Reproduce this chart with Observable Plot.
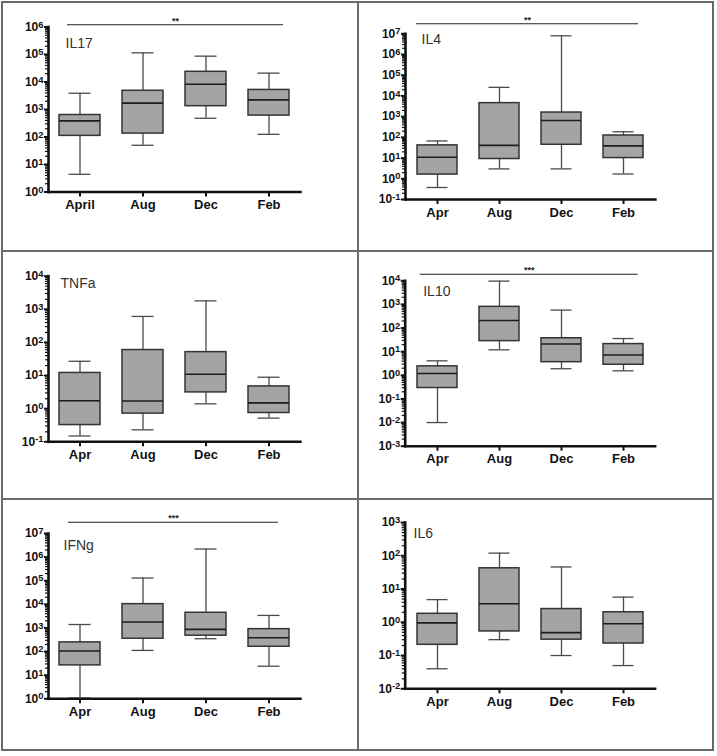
<!DOCTYPE html>
<html><head><meta charset="utf-8">
<script src="https://cdn.jsdelivr.net/npm/d3@7"></script>
<script src="https://cdn.jsdelivr.net/npm/@observablehq/plot@0.6"></script>
<style>
body{margin:0;background:#fff;}
#wrap{position:relative;width:717px;height:756px;overflow:hidden;background:#fff;}
.cell{position:absolute;}
.bline{position:absolute;background:#6a6a6a;}
</style></head><body><div id="wrap"></div>
<script>
// ---------- data ----------
const monthsIL17 = ["April", "Aug", "Dec", "Feb"];
const months = ["Apr", "Aug", "Dec", "Feb"];

const il17Min = [4.4, 50, 480, 125];
const il17Q1  = [110, 133, 1320, 600];
const il17Med = [385, 1700, 8300, 2240];
const il17Q3  = [630, 4800, 23500, 5150];
const il17Max = [3900, 115000, 87000, 21000];

const il4Min = [0.38, 3, 3, 1.7];
const il4Q1  = [1.6, 9, 44, 10];
const il4Med = [11, 41, 650, 39];
const il4Q3  = [41, 4500, 1580, 123];
const il4Max = [67, 26000, 8000000, 186];

const tnfMin = [0.15, 0.23, 1.4, 0.52];
const tnfQ1  = [0.32, 0.71, 3.1, 0.74];
const tnfMed = [1.74, 1.7, 11, 1.5];
const tnfQ3  = [12, 59, 51, 4.7];
const tnfMax = [27, 610, 1800, 8.9];

const il10Min = [0.01, 12, 1.9, 1.55];
const il10Q1  = [0.29, 28, 3.6, 2.8];
const il10Med = [1.2, 208, 21, 7.2];
const il10Q3  = [2.4, 790, 37, 21];
const il10Max = [4.1, 9700, 575, 36];

const ifnMin = [1.07, 112, 350, 24];
const ifnQ1  = [26, 350, 470, 160];
const ifnMed = [105, 1800, 870, 385];
const ifnQ3  = [245, 10200, 4400, 890];
const ifnMax = [1400, 130000, 2200000, 3400];

const il6Min = [0.04, 0.3, 0.1, 0.05];
const il6Q1  = [0.21, 0.53, 0.3, 0.23];
const il6Med = [0.96, 3.6, 0.49, 0.9];
const il6Q3  = [1.8, 42, 2.5, 2.0];
const il6Max = [4.8, 120, 46, 5.7];

// y-axis decades (tick exponents) per panel
const il17Decades = [0, 6];
const il4Decades = [-1, 7];
const tnfDecades = [-1, 4];
const il10Decades = [-3, 4];
const ifnDecades = [0, 7];
const il6Decades = [-2, 3];

const il17Sig = "**", il4Sig = "**", il10Sig = "***", ifnSig = "***";

// ---------- layout ----------
const panels = [
  {name:"IL17", cats:monthsIL17, min:il17Min, q1:il17Q1, med:il17Med, q3:il17Q3, max:il17Max, decades:il17Decades, sig:il17Sig,
   left:0, top:0, w:358, h:248, m:{top:26.5, right:58, bottom:56.5, left:48}, title:[17, 17], sigDy:-2.2, sigIn:[19,17]},
  {name:"IL4", cats:months, min:il4Min, q1:il4Q1, med:il4Med, q3:il4Q3, max:il4Max, decades:il4Decades, sig:il4Sig,
   left:358, top:0, w:358, h:248, m:{top:33.3, right:61, bottom:49, left:47}, title:[16, 6], sigDy:-10, sigIn:[11,17]},
  {name:"TNFa", cats:months, min:tnfMin, q1:tnfQ1, med:tnfMed, q3:tnfQ3, max:tnfMax, decades:tnfDecades, sig:null,
   left:0, top:248, w:358, h:248, m:{top:27.7, right:58, bottom:54.7, left:48}, title:[12, 7.3]},
  {name:"IL10", cats:months, min:il10Min, q1:il10Q1, med:il10Med, q3:il10Q3, max:il10Max, decades:il10Decades, sig:il10Sig,
   left:358, top:248, w:358, h:248, m:{top:32.3, right:61.3, bottom:50.3, left:46.7}, title:[18, 11], sigDy:-6.6, sigIn:[15,17]},
  {name:"IFNg", cats:months, min:ifnMin, q1:ifnQ1, med:ifnMed, q3:ifnQ3, max:ifnMax, decades:ifnDecades, sig:ifnSig,
   left:0, top:496, w:358, h:260, m:{top:37, right:58, bottom:57.7, left:48}, title:[15, 12.3], sigDy:-11.3, sigIn:[20,22]},
  {name:"IL6", cats:months, min:il6Min, q1:il6Q1, med:il6Med, q3:il6Q3, max:il6Max, decades:il6Decades, sig:null,
   left:358, top:496, w:358, h:260, m:{top:26, right:61.3, bottom:67.7, left:46.7}, title:[8.3, 10.7]}
];

const wrap = document.getElementById("wrap");

function makePanel(p) {
  const data = p.cats.map((c, i) => ({cat: c, min: p.min[i], q1: p.q1[i], med: p.med[i], q3: p.q3[i], max: p.max[i]}));
  const [lo, hi] = p.decades;
  const majors = d3.range(lo, hi + 1).map(e => Math.pow(10, e));
  const minors = [];
  for (let e = lo; e < hi; e++) for (let k = 2; k < 10; k++) minors.push(k * Math.pow(10, e));
  const whisk = "#4a4a4a";
  const marks = [
    Plot.ruleX(data, {x: "cat", y1: "min", y2: "max", stroke: whisk, strokeWidth: 1.3}),
    Plot.barY(data, {x: "cat", y1: "q1", y2: "q3", fill: "#a4a4a4", stroke: "#343434", strokeWidth: 1.5}),
    Plot.tickY(data, {x: "cat", y: "med", stroke: "#1c1c1c", strokeWidth: 1.6}),
    Plot.tickY(data, {x: "cat", y: "min", stroke: whisk, strokeWidth: 1.3, insetLeft: 9.5, insetRight: 9.5}),
    Plot.tickY(data, {x: "cat", y: "max", stroke: whisk, strokeWidth: 1.3, insetLeft: 9.5, insetRight: 9.5}),
    Plot.axisY(minors, {tickSize: 3, strokeWidth: 1.2, stroke: "#111", tickFormat: () => ""}),
    Plot.axisY(majors, {tickSize: 4, tickPadding: 1, strokeWidth: 2, stroke: "#111", fontSize: 12,
      tickFormat: d => "10^" + Math.round(Math.log10(d))}),
    Plot.axisX({tickSize: 5, tickPadding: 3, strokeWidth: 2, stroke: "#111", fontSize: 13}),
    Plot.frame({anchor: "left", stroke: "#111", strokeWidth: 2.6}),
    Plot.frame({anchor: "bottom", stroke: "#111", strokeWidth: 2.4}),
    Plot.text([p.name], {frameAnchor: "top-left", dx: p.title[0], dy: p.title[1], textAnchor: "start",
      lineAnchor: "middle", fontSize: 14, fontWeight: "normal", fill: "#333"})
  ];
  if (p.sig) {
    marks.push(
      Plot.ruleY([Math.pow(10, hi)], {dy: p.sigDy, insetLeft: p.sigIn[0], insetRight: p.sigIn[1], stroke: "#222", strokeWidth: 1.1}),
      Plot.text([p.sig], {frameAnchor: "top", dx: (p.sigIn[0] - p.sigIn[1]) / 2, dy: p.sigDy - 4, lineAnchor: "middle",
        fontSize: 9, fontWeight: "bold", fill: "#222"})
    );
  }
  const svg = Plot.plot({
    width: p.w, height: p.h,
    marginTop: p.m.top, marginRight: p.m.right, marginBottom: p.m.bottom, marginLeft: p.m.left,
    x: {type: "band", domain: p.cats, paddingInner: 0.35, paddingOuter: 0.175, label: null},
    y: {type: "log", domain: [Math.pow(10, lo), Math.pow(10, hi)], label: null},
    style: {fontFamily: "'Liberation Sans', Arial, sans-serif", fontWeight: "bold", background: "transparent", color: "#111", overflow: "visible"},
    marks
  });
  svg.querySelectorAll('g[aria-label="y-axis tick label"] text').forEach(t => {
    const mm = t.textContent.match(/^10\^(-?\d+)$/);
    if (!mm) return;
    t.textContent = "10";
    const ts = document.createElementNS("http://www.w3.org/2000/svg", "tspan");
    ts.setAttribute("dy", "-0.35em");
    ts.setAttribute("font-size", "0.78em");
    ts.textContent = mm[1];
    t.appendChild(ts);
  });
  const div = document.createElement("div");
  div.className = "cell";
  div.style.left = p.left + "px";
  div.style.top = p.top + "px";
  div.appendChild(svg);
  wrap.appendChild(div);
}
panels.forEach(makePanel);

// table borders
[[1, 1, 713, 2], [1, 749, 713, 2], [1, 1, 2, 750], [712, 1, 2, 750], [357, 1, 2, 750], [1, 250, 713, 2], [1, 498, 713, 2]]
  .forEach(([x, y, w, h]) => {
    const d = document.createElement("div");
    d.className = "bline";
    d.style.left = x + "px"; d.style.top = y + "px"; d.style.width = w + "px"; d.style.height = h + "px";
    wrap.appendChild(d);
  });
</script></body></html>
